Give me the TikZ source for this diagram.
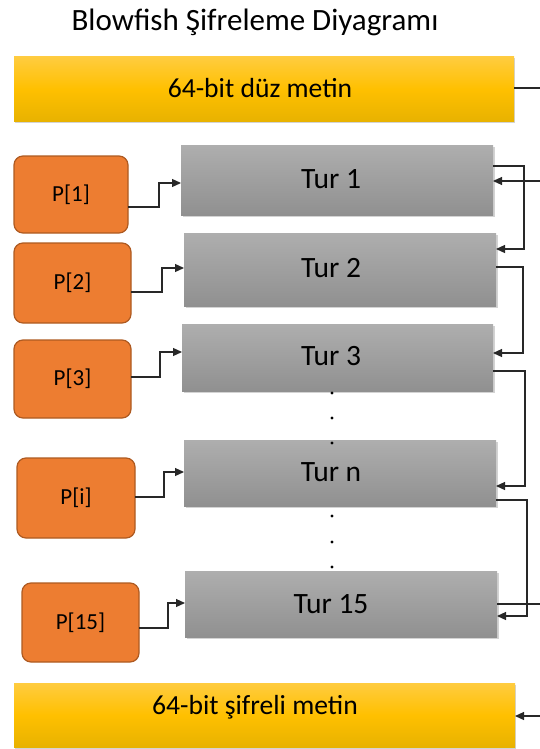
\documentclass[tikz,border=0pt]{standalone}
\usepackage{fontspec}
\setmainfont{Carlito}
\usetikzlibrary{arrows.meta,shadows}
\definecolor{yelT}{RGB}{255,204,64}
\definecolor{yelM}{RGB}{255,192,0}
\definecolor{yelB}{RGB}{232,178,0}
\definecolor{grT}{RGB}{174,174,174}
\definecolor{grB}{RGB}{144,144,144}
\definecolor{orF}{RGB}{237,125,49}
\definecolor{orD}{RGB}{174,90,33}
\definecolor{lineC}{RGB}{40,40,40}
\tikzset{
  yelbox/.style={rectangle, inner sep=0pt, outer sep=0pt, top color=yelT, bottom color=yelB, middle color=yelM,
    drop shadow={shadow xshift=1.2pt, shadow yshift=-2pt, opacity=0.35}},
  turbox/.style={rectangle, inner sep=0pt, outer sep=0pt, top color=grT, bottom color=grB,
    drop shadow={shadow xshift=1.5pt, shadow yshift=-2pt, opacity=0.35}},
  pbox/.style={rectangle, rounded corners=9pt, inner sep=0pt, outer sep=0pt, fill=orF, draw=orD, line width=1.2pt,
    font=\fontsize{23}{26}\selectfont},
  conn/.style={draw=lineC, line width=1.2pt},
  arr/.style={conn, -{Triangle[length=9pt,width=8pt]}},
  dotnode/.style={circle, fill=black, inner sep=0pt, minimum size=3.2pt},
  turlabel/.style={font=\fontsize{29.5}{32}\selectfont},
  yellabel/.style={font=\fontsize{27.6}{30}\selectfont}
}
\begin{document}
\begin{tikzpicture}[x=1pt,y=-1pt]
\useasboundingbox (0,0) rectangle (540,749);
% title
\node[font=\fontsize{31}{34}\selectfont, inner sep=0pt] (title) at (255,22) {Blowfish Şifreleme Diyagramı};
% yellow boxes
\node[yelbox, minimum width=500pt, minimum height=65pt] (plain) at (264,89) {};
\node[yellabel, inner sep=0pt] (plaintxt) at (260,88) {64-bit düz metin};
\node[yelbox, minimum width=501pt, minimum height=64pt] (cipher) at (264.5,715) {};
\node[yellabel, inner sep=0pt] (ciphertxt) at (255,707) {64-bit şifreli metin};
% round boxes
\node[turbox, minimum width=312pt, minimum height=70pt] (t1) at (337,180) {};
\node[turbox, minimum width=312pt, minimum height=73pt] (t2) at (340,269.5) {};
\node[turbox, minimum width=311pt, minimum height=67pt] (t3) at (337.5,357.5) {};
\node[turbox, minimum width=312pt, minimum height=66pt] (tn) at (340,473) {};
\node[turbox, minimum width=312pt, minimum height=66pt] (t15) at (341,604) {};
\node[turlabel, inner sep=0pt] (t1txt) at (331,179) {Tur 1};
\node[turlabel, inner sep=0pt] (t2txt) at (331,268) {Tur 2};
\node[turlabel, inner sep=0pt] (t3txt) at (331,356) {Tur 3};
\node[turlabel, inner sep=0pt] (tntxt) at (331,472) {Tur n};
\node[turlabel, inner sep=0pt] (t15txt) at (331,604) {Tur 15};
% P boxes
\node[pbox, minimum width=114pt, minimum height=77pt] (p1) at (71,194.5) {P[1]};
\node[pbox, minimum width=117pt, minimum height=80pt] (p2) at (72.5,283) {P[2]};
\node[pbox, minimum width=117pt, minimum height=78pt] (p3) at (72.5,379) {P[3]};
\node[pbox, minimum width=118pt, minimum height=80pt] (pi) at (76,498) {P[i]};
\node[pbox, minimum width=117pt, minimum height=79pt] (p15) at (80.5,622.5) {P[15]};
% dots
\node[dotnode] (d1) at (332,393) {};
\node[dotnode] (d2) at (332,418) {};
\node[dotnode] (d3) at (332,443) {};
\node[dotnode] (d4) at (332,516) {};
\node[dotnode] (d5) at (332,542) {};
\node[dotnode] (d6) at (332,567) {};
% free ends at the right edge
\coordinate (eplain) at (540,88);
\coordinate (ein) at (540,181);
\coordinate (eout) at (540,604);
\coordinate (ecip) at (540,716);
% right-side connectors
\draw[conn] (plain.east |- 0,88) -- (eplain);
\draw[arr] (ein) -- (t1.east |- 0,181);
\draw[arr] (t1.east |- 0,166) -- (524,166) -- (524,249) -- (t2.east |- 0,249);
\draw[arr] (t2.east |- 0,267) -- (523,267) -- (523,353) -- (t3.east |- 0,353);
\draw[arr] (t3.east |- 0,371) -- (525,371) -- (525,486) -- (tn.east |- 0,486);
\draw[arr] (tn.east |- 0,500) -- (527,500) -- (527,616) -- (t15.east |- 0,616);
\draw[conn] (t15.east |- 0,604) -- (eout);
\draw[arr] (ecip) -- (cipher.east |- 0,716);
% P connectors
\draw[arr] (p1.east |- 0,207) -- (159,207) -- (159,183) -- (t1.west |- 0,183);
\draw[arr] (p2.east |- 0,292) -- (162,292) -- (162,268) -- (t2.west |- 0,268);
\draw[arr] (p3.east |- 0,377) -- (160,377) -- (160,352) -- (t3.west |- 0,352);
\draw[arr] (pi.east |- 0,497) -- (164,497) -- (164,472) -- (tn.west |- 0,472);
\draw[arr] (p15.east |- 0,628) -- (168,628) -- (168,603) -- (t15.west |- 0,603);
\end{tikzpicture}
\end{document}
